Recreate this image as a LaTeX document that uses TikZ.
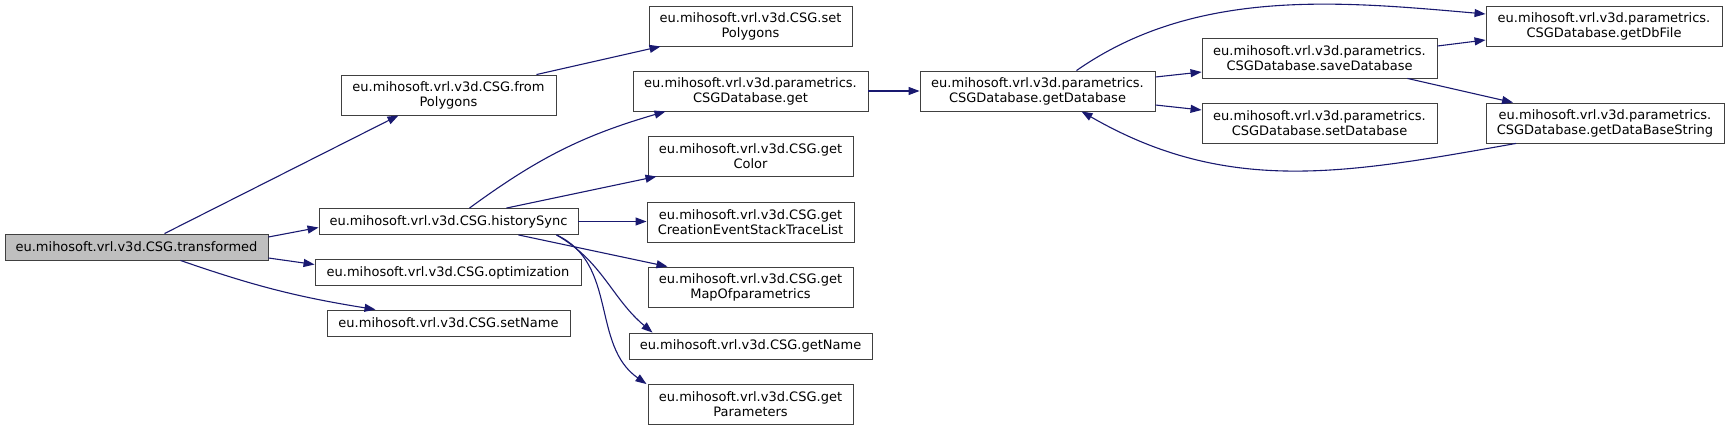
\documentclass[tikz,border=0pt]{standalone}
\usepackage{fontspec}
\setmainfont{DejaVu Sans}
\usetikzlibrary{arrows.meta}
\definecolor{edgeblue}{HTML}{191970}
\definecolor{boxgray}{HTML}{404040}
\definecolor{rootgray}{HTML}{BFBFBF}
\tikzset{
  fn/.style={draw=boxgray, fill=white, line width=0.9pt, align=center, inner sep=1pt,
    minimum height=26pt, font=\fontsize{13}{15}\selectfont},
  fntwo/.style={fn, minimum height=40pt},
  call/.style={edgeblue, line width=1.1pt, -{Triangle[length=11pt,width=8pt]}},
}
\begin{document}
\begin{tikzpicture}[x=1pt,y=-1pt]
  \useasboundingbox (0,0) rectangle (1728,431);
  % first column
  \node[fn, fill=rootgray, minimum width=263pt] (tr) at (136.5,247) {eu.mihosoft.vrl.v3d.CSG.transformed};
  % second column
  \node[fntwo, minimum width=215pt] (fp) at (448.5,95) {eu.mihosoft.vrl.v3d.CSG.from\\Polygons};
  \node[fn, minimum width=259pt] (hs) at (448.5,221.5) {eu.mihosoft.vrl.v3d.CSG.historySync};
  \node[fn, minimum width=266pt] (opt) at (448,272.5) {eu.mihosoft.vrl.v3d.CSG.optimization};
  \node[fn, minimum width=243pt] (sn) at (448.5,323) {eu.mihosoft.vrl.v3d.CSG.setName};
  % third column
  \node[fntwo, minimum width=203pt] (sp) at (750.5,26) {eu.mihosoft.vrl.v3d.CSG.set\\Polygons};
  \node[fntwo, minimum width=235pt] (get) at (750.5,91) {eu.mihosoft.vrl.v3d.parametrics.\\CSGDatabase.get};
  \node[fntwo, minimum width=205pt] (gc) at (750.5,156) {eu.mihosoft.vrl.v3d.CSG.get\\Color};
  \node[fntwo, minimum width=207pt] (ce) at (750.5,222) {eu.mihosoft.vrl.v3d.CSG.get\\CreationEventStackTraceList};
  \node[fntwo, minimum width=205pt] (mp) at (750.5,287) {eu.mihosoft.vrl.v3d.CSG.get\\MapOfparametrics};
  \node[fn, minimum width=243pt] (gn) at (750.5,346) {eu.mihosoft.vrl.v3d.CSG.getName};
  \node[fntwo, minimum width=205pt] (gp) at (750.5,404.5) {eu.mihosoft.vrl.v3d.CSG.get\\Parameters};
  % database part
  \node[fntwo, minimum width=235pt] (gd) at (1037.5,91) {eu.mihosoft.vrl.v3d.parametrics.\\CSGDatabase.getDatabase};
  \node[fntwo, minimum width=235pt] (sd) at (1319.5,58) {eu.mihosoft.vrl.v3d.parametrics.\\CSGDatabase.saveDatabase};
  \node[fntwo, minimum width=235pt] (setd) at (1319.5,123) {eu.mihosoft.vrl.v3d.parametrics.\\CSGDatabase.setDatabase};
  \node[fntwo, minimum width=236pt] (dbf) at (1604,26) {eu.mihosoft.vrl.v3d.parametrics.\\CSGDatabase.getDbFile};
  \node[fntwo, minimum width=238pt] (dbs) at (1605,123) {eu.mihosoft.vrl.v3d.parametrics.\\CSGDatabase.getDataBaseString};

  \draw[call] ([xshift=28pt]tr.north) -- ([xshift=-50pt]fp.south);
  \draw[call] ([yshift=10pt]tr.east) -- ([yshift=-6pt]hs.west);
  \draw[call] ([yshift=-11pt]tr.east) -- ([yshift=8pt]opt.west);
  \draw[call] ([xshift=44pt]tr.south) to[bend right=5] ([xshift=-73pt]sn.north);
  \draw[call] ([xshift=88pt]fp.north) -- ([xshift=-90pt]sp.south);

  \draw[call] ([xshift=21pt]hs.north) to[bend left=10] ([xshift=-85pt]get.south);
  \draw[call] ([xshift=58pt]hs.north) -- ([xshift=-94pt]gc.south);
  \draw[call] (hs.east) -- (hs.east -| ce.west);
  \draw[call] ([xshift=70pt]hs.south) -- ([xshift=-83pt]mp.north);
  \draw[call] ([xshift=108pt]hs.south) to[out=-30,in=140] ([xshift=-98pt]gn.north);
  \draw[call] ([xshift=108pt]hs.south) to[out=-25,in=145] ([xshift=-104pt]gp.north);

  \draw[call] (get.east) -- (gd.west);
  \draw[call] ([xshift=39pt]gd.north) to[out=35,in=175,looseness=0.9] ([yshift=12pt]dbf.west);
  \draw[call] ([yshift=14pt]gd.east) -- ([yshift=-14pt]sd.west);
  \draw[call] ([yshift=-14pt]gd.east) -- ([yshift=13pt]setd.west);
  \draw[call] ([yshift=12pt]sd.east) -- ([yshift=-14pt]dbf.west);
  \draw[call] ([xshift=88pt]sd.south) -- ([xshift=-92pt]dbs.north);
  \draw[call] ([xshift=-89pt]dbs.south) to[out=190,in=-30,looseness=1] ([xshift=44pt]gd.south);
\end{tikzpicture}
\end{document}
